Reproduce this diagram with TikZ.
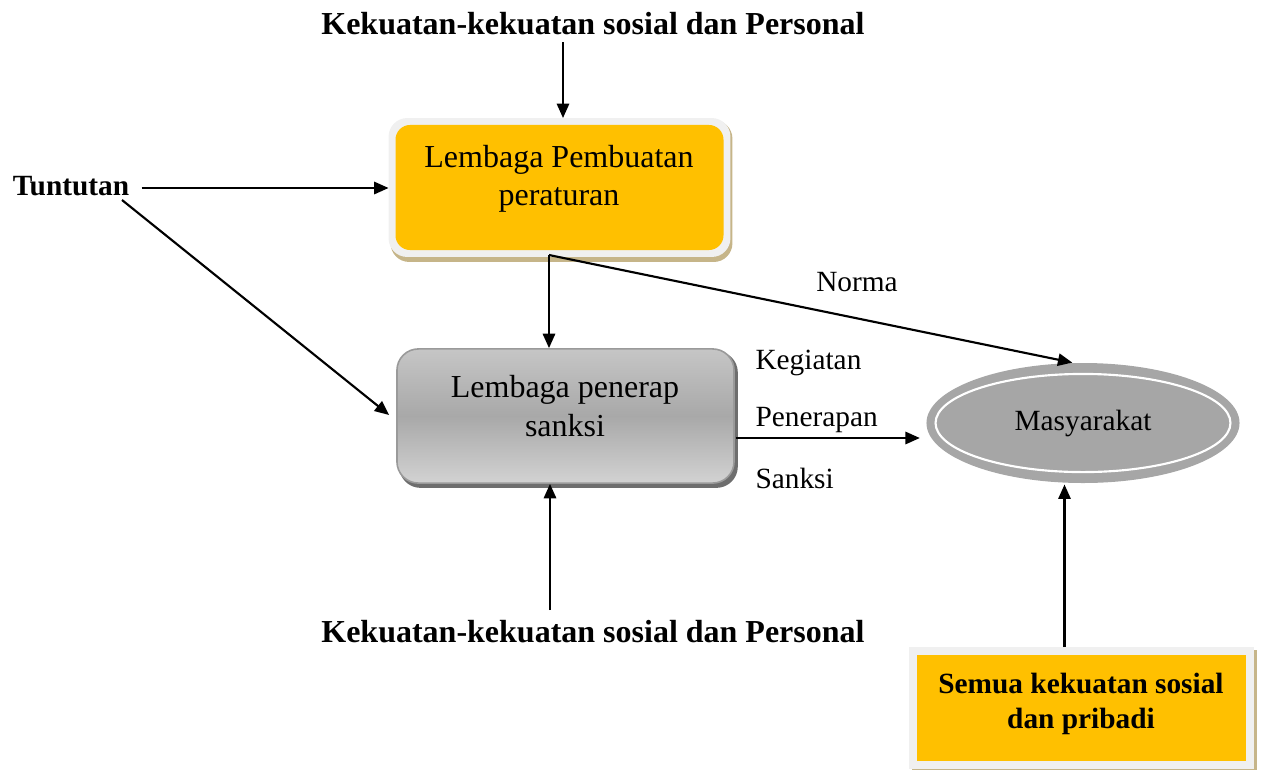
\documentclass[tikz,border=0pt]{standalone}
\usepackage{fontspec}
\setmainfont{Liberation Serif}
\usetikzlibrary{arrows.meta,calc,shapes.geometric,backgrounds}

\definecolor{gold}{HTML}{FFC000}
\definecolor{framegray}{HTML}{F0F0F0}
\definecolor{shadowtan}{HTML}{C6B589}
\definecolor{edgegray}{HTML}{9A9A9A}
\definecolor{ovalgray}{HTML}{A6A6A6}
\definecolor{darkshadow}{HTML}{6E6E6E}

\begin{document}
\begin{tikzpicture}[x=0.375pt,y=-0.375pt,
  arr/.style={line width=0.8pt,-{Triangle[length=5.4pt,width=4.6pt]}},
  heading/.style={font=\bfseries\fontsize{12}{14.4}\selectfont,inner sep=0pt},
  boldsmall/.style={font=\bfseries\fontsize{11}{13.2}\selectfont,inner sep=0pt},
  lbl/.style={font=\fontsize{11}{13.2}\selectfont,inner sep=0pt},
  boxtext/.style={font=\fontsize{12}{14.3}\selectfont,align=center,inner sep=0pt},
  goldbox/.style={fill=gold,draw=none,inner sep=0pt,rounded corners=5.5pt},
  enforcerbox/.style={draw=edgegray,line width=0.6pt,rounded corners=8pt,
    top color=gray!45,bottom color=gray!35,middle color=gray!68,inner sep=0pt},
  oval/.style={ellipse,fill=ovalgray,inner sep=0pt}]
\useasboundingbox (0,0) rectangle (1261,769);

% headings and free labels
\node[heading] (topf) at (593,24) {Kekuatan-kekuatan sosial dan Personal};
\node[heading] (botf) at (593,632) {Kekuatan-kekuatan sosial dan Personal};
\node[boldsmall] (tunt) at (71,186) {Tuntutan};
\node[lbl] (norma) at (857,282) {Norma};
\node[lbl,anchor=west] (keg) at (755,363) {Kegiatan};
\node[lbl,anchor=west] (pen) at (755,420) {Penerapan};
\node[lbl,anchor=west] (sank) at (755,478) {Sanksi};

% rule-making body: gold panel on a light frame with a tan shadow
\node[goldbox,minimum width=123pt,minimum height=46.9pt,outer sep=2.6pt]
  (maker) at (559.5,187.5) {};
\begin{scope}[on background layer]
  \fill[shadowtan,rounded corners=7pt]
    ($(maker.south west)+(2,5)$) rectangle ($(maker.north east)+(2,2)$);
  \fill[framegray,rounded corners=7pt]
    (maker.south west) rectangle (maker.north east);
\end{scope}
\node[boxtext] (makertxt) at (559,179) {Lembaga Pembuatan\\peraturan};

% sanction body: grey shaded panel with a dark drop shadow
\node[enforcerbox,minimum width=126.4pt,minimum height=50.3pt]
  (enforcer) at (565.5,416) {};
\begin{scope}[on background layer]
  \fill[darkshadow,rounded corners=8pt]
    ($(enforcer.south west)+(3,4)$) rectangle ($(enforcer.north east)+(3,3)$);
\end{scope}
\node[boxtext] (enforcertxt) at (565,406) {Lembaga penerap\\sanksi};

% society
\node[oval,minimum width=117.4pt,minimum height=45pt,
  font=\fontsize{11}{13.2}\selectfont] (masy) at (1083,423) {Masyarakat};
\draw[white,line width=0.8pt] (masy.center) ellipse [x radius=55.3pt,y radius=18.4pt];

% all social and personal forces
\node[goldbox,rounded corners=0pt,minimum width=123.4pt,minimum height=39.75pt,
  outer sep=3pt] (semua) at (1081.5,708) {};
\begin{scope}[on background layer]
  \fill[shadowtan] ($(semua.south west)+(3,3)$) rectangle ($(semua.north east)+(3,3)$);
  \fill[framegray] (semua.south west) rectangle (semua.north east);
\end{scope}
\node[boldsmall,align=center,font=\bfseries\fontsize{11}{13.1}\selectfont]
  (semuatxt) at (1081,704) {Semua kekuatan sosial\\dan pribadi};

% connectors
\coordinate (topfoot) at (563,42);
\coordinate (tstart) at ($(tunt.east)+(12,2)$);
\coordinate (tdiag) at (122,200);
\coordinate (split) at (549,255);
\coordinate (botfoot) at (550,610);
\coordinate (enfout) at ($(enforcer.east)+(1,22)$);
\coordinate (semfoot) at ($(semua.north)+(-17,0)$);

\draw[arr] (topfoot) -- (topfoot |- maker.north);
\draw[arr] (tstart) -- (tstart -| maker.west);
\draw[arr] (tdiag) -- ($(enforcer.west)+(-7,-1)$);
\draw[arr] (split) -- (split |- enforcer.north);
\draw[arr] (split) -- (masy.100);
\draw[arr] (botfoot) -- (botfoot |- enforcer.south);
\draw[arr] (enfout) -- ++(184,0);
\draw[arr] (semfoot) -- ($(semfoot |- masy.south)+(0,1)$);
\end{tikzpicture}
\end{document}
